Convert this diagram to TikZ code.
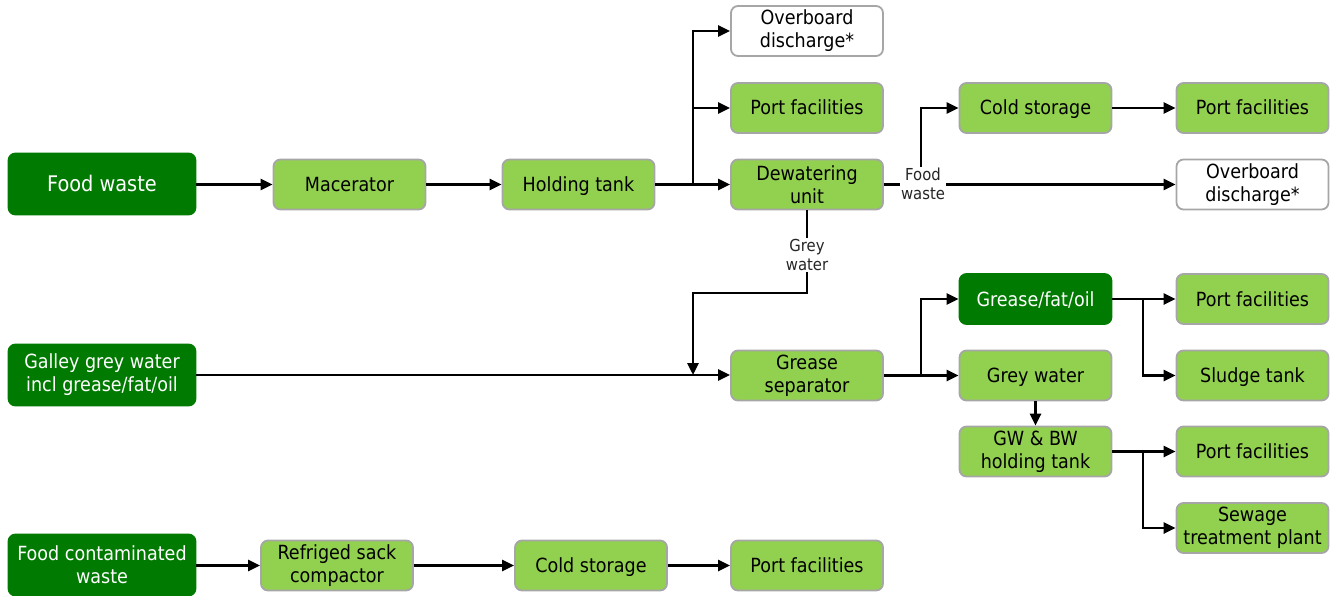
\documentclass[tikz,border=0pt]{standalone}
\usepackage{fontspec}
\setmainfont{DejaVu Sans Condensed}
\usetikzlibrary{arrows.meta}
\definecolor{dgreen}{RGB}{0,122,0}
\definecolor{lgreen}{RGB}{146,208,80}
\definecolor{edgegray}{RGB}{166,166,166}
\tikzset{
  box/.style={rectangle, rounded corners=7pt, draw=edgegray, line width=1.8pt,
    minimum width=152pt, minimum height=50pt, inner sep=0pt, align=center,
    font=\fontsize{19.5}{23}\selectfont, text=black},
  oneline/.style={text height=15pt, text depth=1pt},
  lg/.style={box, fill=lgreen},
  wb/.style={box, fill=white},
  dg/.style={box, fill=dgreen, draw=dgreen, text=white},
  src/.style={dg, minimum width=187pt, minimum height=61pt},
  lbl/.style={fill=white, inner sep=1pt, align=center,
    font=\fontsize{16.5}{19}\selectfont, text=black!85},
  link/.style={line width=2.8pt},
  flow/.style={link, -{Triangle[length=12pt,width=11pt]}}
}
\begin{document}
\begin{tikzpicture}[x=1pt,y=-1pt]
\useasboundingbox (0,0) rectangle (1337,596);

% sources
\node[src, oneline, text height=16pt, font=\fontsize{21.5}{25}\selectfont] (fw) at (102,184) {Food waste};
\node[src] (galley) at (102,375) {Galley grey water\\incl grease/fat/oil};
\node[src] (fcw) at (102,565) {Food contaminated\\waste};

% food waste line
\node[lg, oneline] (mac) at (349.5,184.5) {Macerator};
\node[lg, oneline] (hold) at (578.5,184.5) {Holding tank};
\node[wb] (ob1) at (807,31) {Overboard\\discharge*};
\node[lg, oneline] (pf1) at (807,108) {Port facilities};
\node[lg] (dew) at (807,184.5) {Dewatering\\unit};
\node[lg, oneline] (cs1) at (1035.5,108) {Cold storage};
\node[lg, oneline] (pf2) at (1252.5,108) {Port facilities};
\node[wb] (ob2) at (1252.5,184.5) {Overboard\\discharge*};

% grey water line
\node[lg] (gsep) at (807,375.5) {Grease\\separator};
\node[dg, oneline] (gfo) at (1035.5,299) {Grease/fat/oil};
\node[lg, oneline] (gw) at (1035.5,375.5) {Grey water};
\node[lg, oneline] (pf3) at (1252.5,299) {Port facilities};
\node[lg, oneline] (sludge) at (1252.5,375.5) {Sludge tank};
\node[lg] (gwbw) at (1035.5,451.5) {GW \& BW\\holding tank};
\node[lg, oneline] (pf4) at (1252.5,451.5) {Port facilities};
\node[lg] (stp) at (1252.5,528) {Sewage\\treatment plant};

% contaminated waste line
\node[lg] (rsc) at (337,565.5) {Refriged sack\\compactor};
\node[lg, oneline] (cs2) at (591,565.5) {Cold storage};
\node[lg, oneline] (pf5) at (807,565.5) {Port facilities};

% junctions
\coordinate (j1) at (693,184.5);
\coordinate (j2) at (921,184.5);
\coordinate (j3) at (807,293);
\coordinate (j4) at (693,293);
\coordinate (j5) at (921,375.5);
\coordinate (j6) at (1143,299);
\coordinate (j7) at (1143,451.5);

% connectors: food waste
\draw[flow] (fw.east |- mac.west) -- (mac.west);
\draw[flow] (mac.east) -- (hold.west);
\draw[flow] (hold.east) -- (dew.west);
\draw[flow] (j1) |- (ob1.west);
\draw[flow] (j1) |- (pf1.west);
\draw[flow] (j2) |- (cs1.west);
\draw[flow] (cs1.east) -- (pf2.west);
\draw[flow] (dew.east) -- (ob2.west);
\node[lbl] (fwl) at (923,183.5) {Food\\waste};

% grey water from dewatering unit
\draw[flow] (dew.south) -- (j3) -- (j4) -- (j4 |- galley.east);
\node[lbl] (gwl) at (807,255) {Grey\\water};

% connectors: galley grey water
\draw[flow] (galley.east) -- (galley.east -| gsep.west);
\draw[flow] (gsep.east) -- (gw.west);
\draw[flow] (j5) |- (gfo.west);
\draw[flow] (gfo.east) -- (pf3.west);
\draw[flow] (j6) |- (sludge.west);
\draw[flow] (gw.south) -- (gwbw.north);
\draw[flow] (gwbw.east) -- (pf4.west);
\draw[flow] (j7) |- (stp.west);

% connectors: food contaminated waste
\draw[flow] (fcw.east |- rsc.west) -- (rsc.west);
\draw[flow] (rsc.east) -- (cs2.west);
\draw[flow] (cs2.east) -- (pf5.west);
\end{tikzpicture}
\end{document}
